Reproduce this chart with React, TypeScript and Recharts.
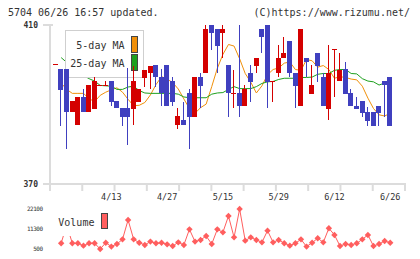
import { ComposedChart, LineChart, Line, Bar, XAxis, YAxis } from "recharts";

// trading days, first entry (3/30) only shows as a doji at the left edge
const dates = [
  "3/30", "3/31", "4/1", "4/2", "4/3", "4/6", "4/7", "4/8", "4/9", "4/10",
  "4/13", "4/14", "4/15", "4/16", "4/17", "4/20", "4/21", "4/22", "4/23", "4/24",
  "4/27", "4/28", "4/30", "5/1", "5/7", "5/8", "5/11", "5/12", "5/13", "5/14",
  "5/15", "5/18", "5/19", "5/20", "5/21", "5/22", "5/25", "5/26", "5/27", "5/28",
  "5/29", "6/1", "6/2", "6/3", "6/4", "6/5", "6/8", "6/9", "6/10", "6/11",
  "6/12", "6/15", "6/16", "6/17", "6/18", "6/19", "6/22", "6/23", "6/24", "6/25",
  "6/26",
];
const shownDates = ["4/13", "4/27", "5/15", "5/29", "6/12", "6/26"];

const opens = [
  400.1, 398.9, 398.9, 388.0, 384.9, 391.8, 388.0, 388.9, 394.8, 394.8,
  395.9, 390.9, 389.1, 389.1, 388.9, 390.7, 396.6, 397.8, 399.9, 396.8,
  399.9, 395.9, 384.9, 386.0, 392.8, 386.9, 396.8, 397.8, 410.0, 409.0,
  407.9, 399.9, 392.9, 392.8, 389.6, 397.8, 399.7, 409.0, 410.0, 395.9,
  397.8, 401.8, 406.0, 397.8, 389.6, 401.8, 392.7, 402.9, 396.8, 388.9,
  403.9, 395.8, 399.0, 392.8, 389.7, 390.8, 388.0, 388.0, 389.7, 395.8,
  396.9,
];
const highs = [
  400.1, 398.9, 398.9, 390.8, 391.8, 393.8, 394.9, 396.8, 394.8, 395.9,
  395.9, 390.9, 389.1, 399.3, 399.8, 393.9, 398.7, 399.8, 399.9, 398.9,
  399.9, 396.8, 389.1, 390.6, 393.8, 396.8, 397.8, 410.0, 410.0, 409.0,
  410.0, 399.9, 398.8, 410.0, 394.9, 399.9, 401.8, 409.0, 410.0, 395.9,
  405.0, 407.0, 406.0, 397.8, 409.0, 401.8, 399.9, 402.9, 397.8, 405.0,
  403.9, 402.9, 400.8, 393.9, 391.8, 390.8, 389.3, 388.0, 389.7, 395.8,
  396.9,
];
const lows = [
  400.1, 384.7, 378.9, 388.0, 384.9, 388.0, 388.0, 388.9, 394.8, 394.8,
  389.6, 389.0, 384.7, 379.7, 384.8, 390.7, 394.4, 393.8, 394.5, 389.6,
  389.6, 389.6, 383.9, 384.9, 378.9, 386.9, 389.0, 397.8, 403.8, 397.8,
  401.6, 386.9, 389.0, 386.9, 389.6, 390.6, 397.8, 402.9, 389.0, 390.6,
  396.8, 401.8, 396.8, 389.0, 389.6, 396.8, 392.7, 395.7, 389.6, 386.0,
  392.0, 395.8, 392.7, 389.7, 388.9, 386.8, 384.5, 384.7, 384.7, 386.8,
  384.7,
];
const closes = [
  400.1, 393.7, 388.0, 390.8, 391.8, 388.0, 394.9, 395.9, 394.8, 394.8,
  390.6, 389.0, 386.9, 386.9, 395.9, 393.9, 398.7, 399.8, 396.8, 392.8,
  389.6, 390.6, 387.0, 384.9, 386.9, 396.8, 394.7, 409.0, 407.9, 404.8,
  409.0, 392.8, 392.9, 389.6, 393.8, 395.6, 401.8, 406.9, 395.7, 395.9,
  401.8, 403.0, 397.8, 394.7, 409.0, 400.7, 394.9, 399.8, 389.6, 397.8,
  403.9, 398.7, 392.7, 389.7, 388.9, 387.9, 385.8, 384.7, 387.9, 394.8,
  384.7,
];
const ma5 = [
  null, 395.4, 393.8, 392.8, 392.8, 392.8, 391.5, 390.7, 392.3, 393.1,
  393.7, 394.2, 393.1, 391.3, 389.7, 389.8, 390.5, 392.4, 395.0, 397.0,
  396.4, 395.5, 393.9, 391.4, 389.0, 387.8, 389.2, 390.1, 394.5, 399.1,
  402.6, 405.1, 404.7, 401.5, 397.8, 395.6, 392.9, 394.7, 397.5, 398.8,
  399.2, 400.4, 400.7, 398.8, 398.6, 401.3, 401.0, 399.4, 399.8, 398.8,
  396.6, 397.0, 396.8, 396.4, 396.2, 394.6, 391.6, 389.0, 387.4, 387.1,
  387.8,
];
const ma25 = [
  null, 401.8, 400.6, 399.4, 398.3, 397.3, 396.5, 395.9, 394.8, 394.7,
  394.6, 393.8, 393.8, 394.4, 394.6, 393.5, 392.9, 392.8, 392.8, 392.8,
  392.8, 392.8, 392.6, 391.9, 391.7, 391.7, 391.7, 391.7, 392.6, 392.9,
  393.0, 393.8, 394.5, 394.0, 394.0, 394.0, 394.5, 395.3, 395.7, 395.8,
  396.3, 396.6, 396.6, 396.6, 396.8, 396.8, 396.9, 397.6, 397.8, 397.8,
  398.6, 398.8, 398.8, 397.8, 397.7, 396.5, 395.9, 395.7, 394.9, 395.4,
  395.7,
];
const volumes = [
  null, 3600, 13500, 3600, 3600, 2300, 3600, 3600, 500, 3900,
  1800, 3200, 5700, 16200, 5700, 3900, 2700, 4500, 3600, 3900,
  3000, 2100, 4100, 2700, 11100, 4500, 5400, 7500, 3200, 11100,
  9500, 18300, 6800, 22100, 5000, 6800, 5400, 4100, 10400, 4100,
  5400, 3600, 2300, 3600, 5700, 1800, 3900, 6300, 4100, 11700,
  8100, 2100, 3200, 2700, 3600, 5700, 8100, 2100, 3200, 4800,
  3900,
];

const priceTicks = [370, 410];
const volTicks = [500, 11300, 22100];

const rows = dates.map((d, k) => ({
  pos: k - 1,
  date: d,
  open: opens[k],
  high: highs[k],
  low: lows[k],
  close: closes[k],
  range: [lows[k], highs[k]],
  ma5: ma5[k],
  ma25: ma25[k],
  vol: volumes[k],
}));

const X_DOMAIN: [number, number] = [-2, 61.65];
const P_DOMAIN: [number, number] = [370, 410];
// 11 even divisions of the time axis (grid ticks, no labels)
const gridTicks = Array.from({ length: 12 }, (_, n) =>
  Math.round((X_DOMAIN[0] + (n * (X_DOMAIN[1] - X_DOMAIN[0])) / 11) * 1000) / 1000
);
const dateTicks = shownDates.map((d) => dates.indexOf(d) - 1);

const RED = "#d40000";
const BLUE = "#4040bf";
const ORANGE = "#f0900a";
const GREEN = "#1ea01e";
const AXIS = "#dcdcdc";
const VOL = "#ff5e5e";
const TEXT = "#333";
const mono = "'DejaVu Sans Mono', monospace";

const layer: React.CSSProperties = { position: "absolute", left: 0, top: 0 };

function Candle(props: any) {
  const { x, width, payload } = props;
  let { y, height } = props;
  if (payload == null || x == null || y == null) return null;
  if (height < 0) {
    y = y + height;
    height = -height;
  }
  const { open, close, high, low } = payload;
  const color = close >= open ? RED : BLUE;
  const span = high - low;
  const at = (v: number) => (span > 0 ? y + ((high - v) / span) * height : y);
  const mid = x + width / 2;
  const wx = Math.round(mid - 0.5) + 0.5;
  const top = at(Math.max(open, close));
  const bot = at(Math.min(open, close));
  return (
    <g shapeRendering="crispEdges">
      <line x1={wx} x2={wx} y1={y} y2={y + height} stroke={color} strokeWidth={1} />
      <rect x={Math.round(mid - 2.5)} y={top} width={5} height={Math.max(bot - top, 1)} fill={color} />
    </g>
  );
}

function GridTick(props: any) {
  const { x, y } = props;
  return <line x1={x} x2={x} y1={y - 3} y2={y + 5} stroke={AXIS} strokeWidth={2} />;
}

function PriceTick(props: any) {
  const { x, y, payload } = props;
  return (
    <g>
      <line x1={x - 5} x2={x + 5} y1={y} y2={y} stroke={AXIS} strokeWidth={2} />
      <text x={x - 10} y={y + 3} textAnchor="end" fontSize={8} fontWeight="bold" fontFamily={mono} fill={TEXT}>
        {payload.value}
      </text>
    </g>
  );
}

function DateTick(props: any) {
  const { x, y, payload } = props;
  return (
    <text x={x} y={y - 7.5} textAnchor="middle" fontSize={8.5} fontFamily={mono} fill={TEXT}>
      {dates[payload.value + 1]}
    </text>
  );
}

function VolTick(props: any) {
  const { x, y, payload } = props;
  return (
    <text x={x - 5.5} y={y + 2.3} textAnchor="end" fontSize={6} letterSpacing={-0.5} fontFamily={mono} fill={TEXT}>
      {payload.value}
    </text>
  );
}

function Diamond(props: any) {
  const { cx, cy } = props;
  if (cx == null || cy == null || props.value == null) return null;
  const r = 3.2;
  return <polygon points={`${cx},${cy - r} ${cx + r},${cy} ${cx},${cy + r} ${cx - r},${cy}`} fill={VOL} />;
}

// legend box sits above the MA lines but below the candles
function MainLegend() {
  return (
    <svg width={420} height={259} style={layer}>
      <g fontFamily={mono} fontSize={10} fill={TEXT}>
        <text x={8} y={16}>5704 06/26 16:57 updated.</text>
        <text x={410} y={16} textAnchor="end">(C)https://www.rizumu.net/</text>
        <rect x={65.5} y={30.5} width={78} height={47} fill="#fff" stroke="#cfcfcf" />
        <text x={124.5} y={49} textAnchor="end">5-day MA</text>
        <text x={124.5} y={66.5} textAnchor="end">25-day MA</text>
        <rect x={131.5} y={36.5} width={6} height={16} fill={ORANGE} stroke="#444" />
        <rect x={131.5} y={54.5} width={6} height={16} fill={GREEN} stroke="#444" />
      </g>
    </svg>
  );
}

function VolLegend() {
  return (
    <svg width={420} height={259} style={layer}>
      <g fontFamily={mono} fontSize={10} fill={TEXT}>
        <rect x={56} y={210} width={56} height={26} fill="#fff" />
        <text x={58.3} y={226}>Volume</text>
        <rect x={101.5} y={213.5} width={6} height={15} fill={VOL} stroke="#444" />
      </g>
    </svg>
  );
}

export default function App() {
  return (
    <div style={{ position: "absolute", left: 0, top: 0, width: 420, height: 259, background: "#fff" }}>
      <div style={layer}>
        <ComposedChart width={420} height={259} data={rows} margin={{ top: 25, right: 15, bottom: 55, left: 0 }}>
          <XAxis
            dataKey="pos"
            type="number"
            domain={X_DOMAIN}
            ticks={gridTicks}
            interval={0}
            allowDataOverflow
            height={20}
            tickSize={0}
            tickLine={false}
            tick={<GridTick />}
            axisLine={{ stroke: AXIS, strokeWidth: 2 }}
          />
          <YAxis
            domain={P_DOMAIN}
            ticks={priceTicks}
            interval={0}
            allowDataOverflow
            width={50}
            tickSize={0}
            tickLine={false}
            tick={<PriceTick />}
            axisLine={{ stroke: AXIS, strokeWidth: 2 }}
          />
          <Line dataKey="ma5" stroke={ORANGE} strokeWidth={1} dot={false} isAnimationActive={false} />
          <Line dataKey="ma25" stroke={GREEN} strokeWidth={1} dot={false} isAnimationActive={false} />
        </ComposedChart>
      </div>
      <MainLegend />
      <div style={layer}>
        <ComposedChart width={420} height={259} data={rows} margin={{ top: 25, right: 15, bottom: 75, left: 50 }}>
          <XAxis dataKey="pos" type="number" domain={X_DOMAIN} allowDataOverflow hide />
          <YAxis domain={P_DOMAIN} allowDataOverflow hide />
          <Bar dataKey="range" barSize={5} shape={Candle} isAnimationActive={false} />
        </ComposedChart>
      </div>
      <div style={layer}>
        <LineChart width={420} height={259} data={rows} margin={{ top: 198, right: 15, bottom: 10, left: 0 }}>
          <XAxis
            dataKey="pos"
            type="number"
            domain={X_DOMAIN}
            orientation="top"
            ticks={dateTicks}
            interval={0}
            allowDataOverflow
            height={11}
            tickSize={0}
            tickLine={false}
            axisLine={false}
            tick={<DateTick />}
          />
          <YAxis
            domain={[500, 22100]}
            ticks={volTicks}
            interval={0}
            width={50}
            tickSize={0}
            tickLine={false}
            axisLine={false}
            tick={<VolTick />}
          />
          <Line dataKey="vol" stroke={VOL} strokeWidth={1} dot={<Diamond />} isAnimationActive={false} />
        </LineChart>
      </div>
      <VolLegend />
    </div>
  );
}
